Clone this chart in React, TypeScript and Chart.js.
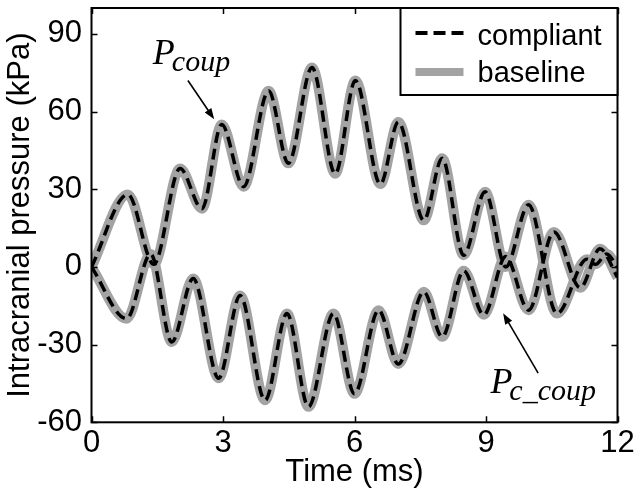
import React, { useEffect, useRef } from 'react';
import { Chart, registerables } from 'chart.js';

Chart.register(...registerables);

// ---- data (time in ms, pressure in kPa) ----
const timeUpper = [0, 0.83, 1.42, 2.02, 2.52, 2.97, 3.47, 4.04, 4.49, 5.03, 5.56, 6.02, 6.59, 7.0, 7.58, 8.0, 8.49, 8.98, 9.45, 9.97, 10.62, 11.3, 11.5, 11.75, 12];
const baselineUpper = [0, 28, 1, 38, 22.5, 55, 31, 68, 40, 77, 36, 72, 32, 56, 18, 42, 4.5, 29, 0, 24, -18, 3, 1, 5, 0];
const compliantUpper = [0, 28, 1, 38, 22.5, 55, 31, 68, 40, 77, 36, 72, 32, 56, 18, 42, 4.5, 29, 0, 24, -18, 3, 1, 5, 0];

const timeLower = [0, 0.8, 1.35, 1.83, 2.32, 2.9, 3.39, 3.96, 4.46, 4.95, 5.52, 6.0, 6.55, 7.0, 7.58, 8.0, 8.49, 8.95, 9.45, 9.97, 10.55, 11.15, 11.6, 12];
const baselineLower = [0, -20, 5, -29, -4.5, -43, -11, -51.5, -18, -54, -18, -49, -16.7, -37.5, -9.6, -27, -1.5, -18.5, 4, -16.7, 13.5, -8, 7, -4];
const compliantLower = [0, -20, 5, -29, -4.5, -43, -11, -51.5, -18, -54, -18, -49, -16.7, -37.5, -9.6, -27, -1.5, -18.5, 4, -16.7, 13.5, -8, 7, -4];

const xTicks = [0, 3, 6, 9, 12];
const yTicks = [-60, -30, 0, 30, 60, 90];

const legendLabels = ['compliant', 'baseline'];

// annotation anchors in data units: [textX, textY, arrowTailX, arrowTailY, arrowHeadX, arrowHeadY]
const coupAnno = [1.4, 78.4, 2.2, 72, 2.8, 57];
const cCoupAnno = [9.1, -48.7, 10.19, -41, 9.39, -17.9];

const GRAY = '#a3a3a3';
const FONT = 'Liberation Sans';
const SERIF = 'Liberation Serif';

function toXY(t: number[], v: number[]) {
  return t.map((tt, i) => ({ x: tt, y: v[i] }));
}

function drawArrow(ctx: CanvasRenderingContext2D, x1: number, y1: number, x2: number, y2: number) {
  const ang = Math.atan2(y2 - y1, x2 - x1);
  const hl = 11, hw = 4;
  ctx.beginPath();
  ctx.moveTo(x1, y1);
  ctx.lineTo(x2 - Math.cos(ang) * hl * 0.8, y2 - Math.sin(ang) * hl * 0.8);
  ctx.lineWidth = 1.6;
  ctx.strokeStyle = '#000';
  ctx.stroke();
  ctx.beginPath();
  ctx.moveTo(x2, y2);
  ctx.lineTo(x2 - Math.cos(ang) * hl + Math.sin(ang) * hw, y2 - Math.sin(ang) * hl - Math.cos(ang) * hw);
  ctx.lineTo(x2 - Math.cos(ang) * hl - Math.sin(ang) * hw, y2 - Math.sin(ang) * hl + Math.cos(ang) * hw);
  ctx.closePath();
  ctx.fillStyle = '#000';
  ctx.fill();
}

function drawSubLabel(ctx: CanvasRenderingContext2D, x: number, y: number, main: string, sub: string, subDy: number) {
  ctx.fillStyle = '#000';
  ctx.textAlign = 'left';
  ctx.textBaseline = 'alphabetic';
  ctx.font = `italic 36px "${SERIF}"`;
  ctx.fillText(main, x, y);
  const w = ctx.measureText(main).width;
  ctx.font = `italic 30px "${SERIF}"`;
  ctx.fillText(sub, x + w - 3, y + subDy);
}

const framePlugin = {
  id: 'frameDecor',
  afterDatasetsDraw(chart: any) {
    const { ctx, chartArea: a, scales } = chart;
    const xs = scales.x, ys = scales.y;
    ctx.save();
    // ticks (inward, all four sides)
    ctx.strokeStyle = '#000';
    ctx.lineWidth = 1.5;
    const tl = 6;
    ctx.beginPath();
    for (const v of xTicks) {
      const px = Math.round(xs.getPixelForValue(v)) + 0.5;
      ctx.moveTo(px, a.bottom); ctx.lineTo(px, a.bottom - tl);
      ctx.moveTo(px, a.top); ctx.lineTo(px, a.top + tl);
    }
    for (const v of yTicks) {
      const py = Math.round(ys.getPixelForValue(v)) + 0.5;
      ctx.moveTo(a.left, py); ctx.lineTo(a.left + tl, py);
      ctx.moveTo(a.right, py); ctx.lineTo(a.right - tl, py);
    }
    ctx.stroke();
    // frame
    ctx.lineWidth = 2;
    ctx.strokeRect(a.left, a.top, a.right - a.left, a.bottom - a.top);

    // annotations
    const [tx1, ty1, ax1, ay1, hx1, hy1] = coupAnno;
    drawSubLabel(ctx, xs.getPixelForValue(tx1), ys.getPixelForValue(ty1), 'P', 'coup', 7);
    drawArrow(ctx, xs.getPixelForValue(ax1), ys.getPixelForValue(ay1), xs.getPixelForValue(hx1), ys.getPixelForValue(hy1));
    const [tx2, ty2, ax2, ay2, hx2, hy2] = cCoupAnno;
    drawSubLabel(ctx, xs.getPixelForValue(tx2), ys.getPixelForValue(ty2), 'P', 'c_coup', 7);
    drawArrow(ctx, xs.getPixelForValue(ax2), ys.getPixelForValue(ay2), xs.getPixelForValue(hx2), ys.getPixelForValue(hy2));

    // legend box
    const bx = a.right - 217, by = a.top, bw = 217, bh = 87;
    ctx.fillStyle = '#fff';
    ctx.fillRect(bx, by, bw, bh);
    ctx.lineWidth = 2;
    ctx.strokeStyle = '#000';
    ctx.strokeRect(bx, by, bw, bh);
    // compliant sample
    ctx.beginPath();
    ctx.setLineDash([12, 6]);
    ctx.lineWidth = 4;
    ctx.moveTo(bx + 15, by + 25); ctx.lineTo(bx + 64, by + 25);
    ctx.stroke();
    ctx.setLineDash([]);
    // baseline sample
    ctx.beginPath();
    ctx.strokeStyle = GRAY;
    ctx.lineWidth = 8;
    ctx.moveTo(bx + 15, by + 64); ctx.lineTo(bx + 63, by + 64);
    ctx.stroke();
    ctx.fillStyle = '#000';
    ctx.font = `29px "${FONT}"`;
    ctx.textAlign = 'left';
    ctx.textBaseline = 'alphabetic';
    ctx.fillText(legendLabels[0], bx + 77, by + 37);
    ctx.fillText(legendLabels[1], bx + 77, by + 74);
    ctx.restore();
  },
};

export default function App() {
  const ref = useRef<HTMLCanvasElement | null>(null);
  useEffect(() => {
    if (!ref.current) return;
    const tickFont = { family: FONT, size: 31, lineHeight: 1.2 };
    const chart = new Chart(ref.current, {
      type: 'line',
      data: {
        datasets: [
          { label: 'compliant', data: toXY(timeUpper, compliantUpper), borderColor: '#000', borderWidth: 3.5, borderDash: [11, 6], order: 1 },
          { label: 'compliant', data: toXY(timeLower, compliantLower), borderColor: '#000', borderWidth: 3.5, borderDash: [11, 6], order: 1 },
          { label: 'baseline', data: toXY(timeUpper, baselineUpper), borderColor: GRAY, borderWidth: 10, order: 2 },
          { label: 'baseline', data: toXY(timeLower, baselineLower), borderColor: GRAY, borderWidth: 10, order: 2 },
        ],
      },
      options: {
        responsive: false,
        animation: false,
        layout: { padding: { top: 8, right: 23.5, left: 0, bottom: 0 } },
        elements: {
          point: { radius: 0, hoverRadius: 0 },
          line: { cubicInterpolationMode: 'monotone', fill: false, borderJoinStyle: 'round', borderCapStyle: 'butt' },
        },
        plugins: { legend: { display: false }, tooltip: { enabled: false } },
        scales: {
          x: {
            type: 'linear',
            min: 0,
            max: 12,
            afterBuildTicks: (s: any) => { s.ticks = xTicks.map((v) => ({ value: v })); },
            afterFit: (s: any) => { s.height = 78.7; s.paddingLeft = 0; s.paddingRight = 0; },
            grid: { display: false, drawTicks: false },
            border: { display: false },
            ticks: { padding: 3, color: '#000', font: tickFont, maxRotation: 0, autoSkip: false },
            title: { display: true, text: 'Time (ms)', color: '#000', font: tickFont, padding: { top: 0, bottom: 10 } },
          },
          y: {
            type: 'linear',
            min: -60,
            max: 100,
            afterBuildTicks: (s: any) => { s.ticks = yTicks.map((v) => ({ value: v })); },
            afterFit: (s: any) => { s.width = 91.5; s.paddingTop = 0; s.paddingBottom = 0; },
            grid: { display: false, drawTicks: false },
            border: { display: false },
            ticks: { padding: 9.5, color: '#000', font: tickFont, autoSkip: false },
            title: { display: true, text: 'Intracranial pressure (kPa)', color: '#000', font: tickFont, padding: { top: 2, bottom: 0 } },
          },
        },
      } as any,
      plugins: [framePlugin],
    });
    return () => chart.destroy();
  }, []);
  return (
    <div style={{ position: 'fixed', left: 0, top: 0, width: 641, height: 501, background: '#fff' }}>
      <canvas ref={ref} width={641} height={501} />
    </div>
  );
}
